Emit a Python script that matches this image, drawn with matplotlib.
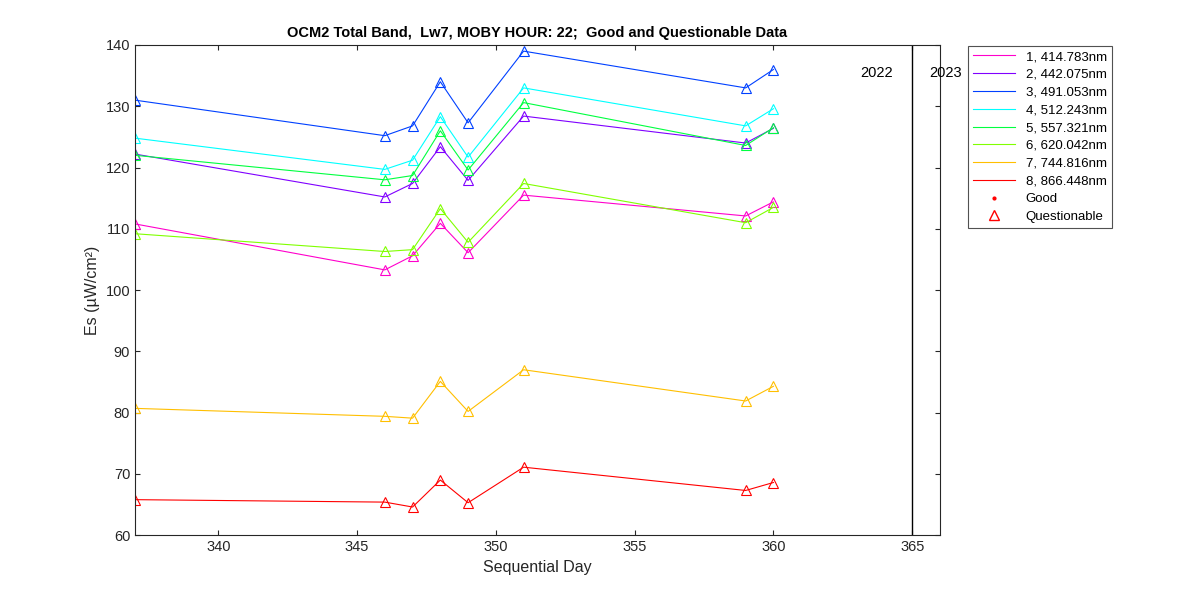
import matplotlib
matplotlib.use("Agg")
import matplotlib.pyplot as plt
from matplotlib.lines import Line2D
plt.rcParams["font.family"] = "Liberation Sans"

days = [337, 346, 347, 348, 349, 351, 359, 360]
labels = ["1, 414.783nm", "2, 442.075nm", "3, 491.053nm", "4, 512.243nm",
          "5, 557.321nm", "6, 620.042nm", "7, 744.816nm", "8, 866.448nm"]
colors = ["#ff00cc", "#8000ff", "#0040ff", "#00ffff", "#00ff40", "#80ff00", "#ffbf00", "#ff0000"]
s1 = [110.8, 103.3, 105.6, 110.9, 106.1, 115.5, 112.1, 114.4]
s2 = [122.2, 115.2, 117.4, 123.4, 117.9, 128.4, 124.0, 126.4]
s3 = [131.0, 125.2, 126.8, 134.0, 127.3, 139.0, 133.0, 136.0]
s4 = [124.8, 119.7, 121.2, 128.3, 121.7, 133.0, 126.8, 129.6]
s5 = [122.0, 118.0, 118.7, 126.0, 119.6, 130.6, 123.6, 126.5]
s6 = [109.2, 106.3, 106.6, 113.3, 107.8, 117.4, 111.0, 113.5]
s7 = [80.7, 79.4, 79.1, 85.1, 80.2, 87.0, 81.9, 84.3]
s8 = [65.8, 65.4, 64.6, 69.0, 65.3, 71.1, 67.3, 68.6]
series = [s1, s2, s3, s4, s5, s6, s7, s8]

fig = plt.figure(figsize=(12, 6), dpi=100)
ax = fig.add_axes([0.1125, 0.108, 0.6708, 0.817])
handles = []
for lab, c, s in zip(labels, colors, series):
    h, = ax.plot(days, s, color=c, lw=0.8, label=lab)
    ax.plot(days, s, ls="none", marker="^", ms=7, mfc="none", mec=c, mew=0.8)
    handles.append(h)
handles.append(Line2D([], [], ls="none", marker=".", color="red", ms=4, label="Good"))
handles.append(Line2D([], [], ls="none", marker="^", mfc="none", mec="red", ms=7, label="Questionable"))
ax.axvline(365, color="black", lw=1)
ax.text(364.3, 135.5, "2022", ha="right", va="center", fontsize=10.5)
ax.text(365.6, 135.5, "2023", ha="left", va="center", fontsize=10.5, clip_on=False)
ax.set_xlim(337, 366)
ax.set_ylim(60, 140)
ax.set_xticks([340, 345, 350, 355, 360, 365])
ax.set_yticks(range(60, 141, 10))
ax.tick_params(direction="in", top=True, right=True, labelsize=10.5, colors="#262626")
for sp in ax.spines.values():
    sp.set_color("#262626")
ax.set_xlabel("Sequential Day", fontsize=11.5, color="#262626")
ax.set_ylabel("Es (\u00b5W/cm\u00b2)", fontsize=11.5, color="#262626")
ax.set_title("OCM2 Total Band,  Lw7, MOBY HOUR: 22;  Good and Questionable Data",
             fontsize=10.5, fontweight="bold")
leg = fig.legend(handles=handles, loc="upper left", bbox_to_anchor=(0.801, 0.935),
                 fontsize=9.5, fancybox=False, edgecolor="#262626", borderpad=0.4,
                 handlelength=3.2, labelspacing=0.42)
leg.get_frame().set_linewidth(0.8)
fig.savefig("out.png", dpi=100)
